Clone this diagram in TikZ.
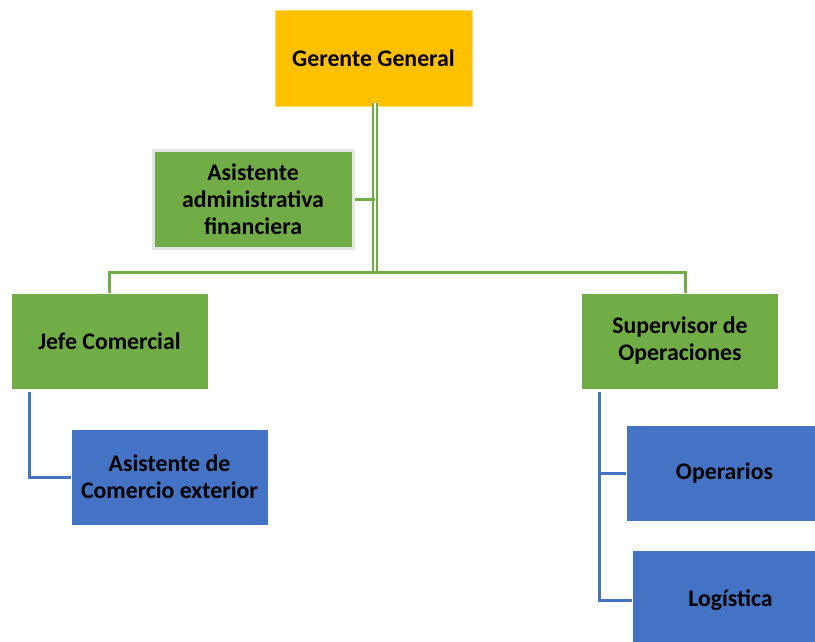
\documentclass[tikz,border=0pt]{standalone}
\usepackage{fontspec}
\setmainfont{Carlito}
\usepackage{xcolor}
\usetikzlibrary{positioning}

\definecolor{oro}{HTML}{FFC000}
\definecolor{verde}{HTML}{70AD47}
\definecolor{azul}{HTML}{4472C4}

\begin{document}
\begin{tikzpicture}[x=1pt, y=-1pt,
    gerente/.style={rectangle, draw=oro!60, line width=0.8pt, fill=oro, minimum width=197pt, minimum height=96pt, align=center, font=\fontsize{23.8}{27}\selectfont\bfseries},
    cargo/.style={rectangle, draw=white, line width=0.8pt, fill=verde, minimum width=197pt, minimum height=96pt, align=center, font=\fontsize{23.8}{27}\selectfont\bfseries},
    asistente/.style={cargo, draw=gray!20, line width=3pt, minimum width=200pt, minimum height=98pt},
    unidad/.style={rectangle, draw=white, line width=0.8pt, fill=azul, minimum width=197pt, minimum height=96pt, align=center, font=\fontsize{23.8}{27}\selectfont\bfseries},
    lineaverde/.style={draw=verde, line width=3pt},
    lineaazul/.style={draw=azul, line width=3pt}
]
\useasboundingbox (0,0) rectangle (815,642);

% Dirección
\node[gerente] (gerente) at (373.5,58) {Gerente General};
\node[asistente] (asist) at (253,199) {Asistente\\administrativa\\financiera};

% Jefaturas
\node[cargo] (jefe) at (109.5,341) {Jefe Comercial};
\node[cargo] (super) at (680,341) {Supervisor de\\Operaciones};

% Unidades
\node[unidad] (comext) at (169.5,477) {Asistente de\\Comercio exterior};
\node[unidad] (operarios) at (724.5,473) {Operarios};
\node[unidad, minimum height=100pt] (logistica) at (730.5,600) {Logística};

% Conexiones verdes
\coordinate (bus) at (375,272);
\coordinate (superarriba) at ([xshift=5pt]super.north);
\draw[lineaverde, double=white, double distance=1.8pt, line width=2pt] ([yshift=3pt]gerente.south -| bus) -- (bus);
\draw[lineaverde] (asist.east) -- (asist.east -| bus);
\draw[lineaverde] (jefe.north) |- (bus) -| (superarriba);

% Conexiones azules
\coordinate (jc) at ([xshift=19pt]jefe.south west);
\coordinate (sc) at ([xshift=18pt]super.south west);
\draw[lineaazul] ([yshift=-3pt]jc) |- (comext.west);
\draw[lineaazul] ([yshift=-3pt]sc) |- (operarios.west);
\draw[lineaazul] ([yshift=-3pt]sc) |- (logistica.west);

\end{tikzpicture}
\end{document}
